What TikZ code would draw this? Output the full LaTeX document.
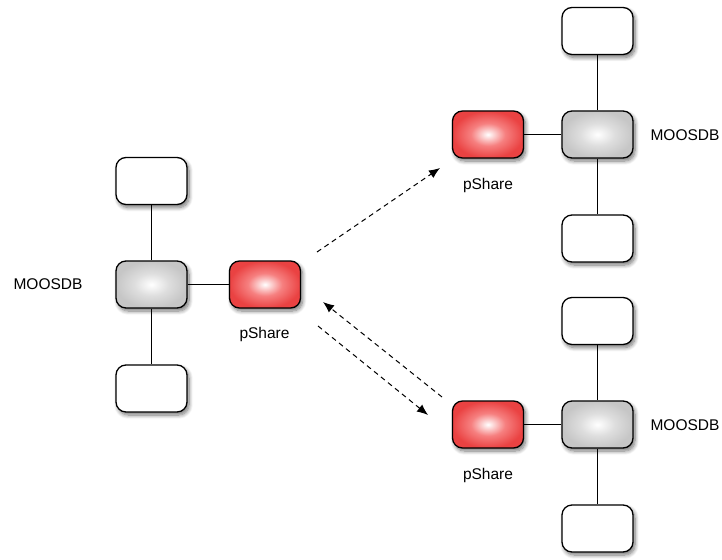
\documentclass[tikz,border=0pt]{standalone}
\usepackage{fontspec}
\setmainfont{Liberation Sans}
\usetikzlibrary{shadows.blur,arrows.meta}
\definecolor{redout}{RGB}{234,66,66}
\definecolor{redmid}{RGB}{246,128,128}
\definecolor{grayout}{RGB}{198,198,198}
\definecolor{graymid}{RGB}{222,222,222}
\pgfdeclareradialshading{redglow}{\pgfpoint{0bp}{0bp}}{color(0bp)=(white); color(12bp)=(redmid); color(25bp)=(redout); color(50bp)=(redout)}
\pgfdeclareradialshading{grayglow}{\pgfpoint{0bp}{0bp}}{color(0bp)=(white); color(12bp)=(graymid); color(25bp)=(grayout); color(50bp)=(grayout)}
\begin{document}
\begin{tikzpicture}[x=1pt,y=-1pt,
  box/.style={rounded corners=10pt, minimum width=71pt, minimum height=47pt, draw=black, line width=1.3pt,
    blur shadow={shadow xshift=2pt, shadow yshift=-3pt, shadow blur steps=8, shadow blur radius=4pt, shadow opacity=55}},
  wbox/.style={box, fill=white},
  dbbox/.style={box, shading=grayglow},
  sharebox/.style={box, shading=redglow},
  lbl/.style={font=\fontsize{15.5}{18}\selectfont, inner sep=0pt},
  link/.style={line width=1pt, draw=black},
  msg/.style={line width=1pt, dash pattern=on 5pt off 4pt, -{Latex[length=11pt,width=9pt]}}
]
\useasboundingbox (0,0) rectangle (722,559);
% left group
\node[wbox] (lt) at (151.5,181) {};
\node[dbbox] (ldb) at (151.5,284.5) {};
\node[wbox] (lb) at (151.5,388.5) {};
\node[sharebox] (ls) at (265,284.5) {};
\node[lbl] (lmoos) at (48,284) {MOOSDB};
\node[lbl] (lsl) at (264.5,334) {pShare};
\draw[link] (lt) -- (ldb);
\draw[link] (ldb) -- (lb);
\draw[link] (ldb) -- (ls);
% top right group
\node[wbox] (at) at (597.5,31) {};
\node[dbbox] (adb) at (597.5,134.5) {};
\node[wbox] (ab) at (597.5,238.5) {};
\node[sharebox] (as) at (488,134.5) {};
\node[lbl] (amoos) at (685,135) {MOOSDB};
\node[lbl] (asl) at (488,185) {pShare};
\draw[link] (at) -- (adb);
\draw[link] (adb) -- (ab);
\draw[link] (adb) -- (as);
% bottom right group
\node[wbox] (bt) at (597.5,321) {};
\node[dbbox] (bdb) at (597.5,424.5) {};
\node[wbox] (bb) at (597.5,528.5) {};
\node[sharebox] (bs) at (488,424.5) {};
\node[lbl] (bmoos) at (685,425) {MOOSDB};
\node[lbl] (bsl) at (488,475) {pShare};
\draw[link] (bt) -- (bdb);
\draw[link] (bdb) -- (bb);
\draw[link] (bdb) -- (bs);
% messages
\coordinate (m1s) at (317,252);
\coordinate (m1e) at (440,168);
\coordinate (m2s) at (442,397);
\coordinate (m2e) at (323,302);
\coordinate (m3s) at (318,326);
\coordinate (m3e) at (428,415);
\draw[msg] (m1s) -- (m1e);
\draw[msg] (m2s) -- (m2e);
\draw[msg] (m3s) -- (m3e);
\end{tikzpicture}
\end{document}
